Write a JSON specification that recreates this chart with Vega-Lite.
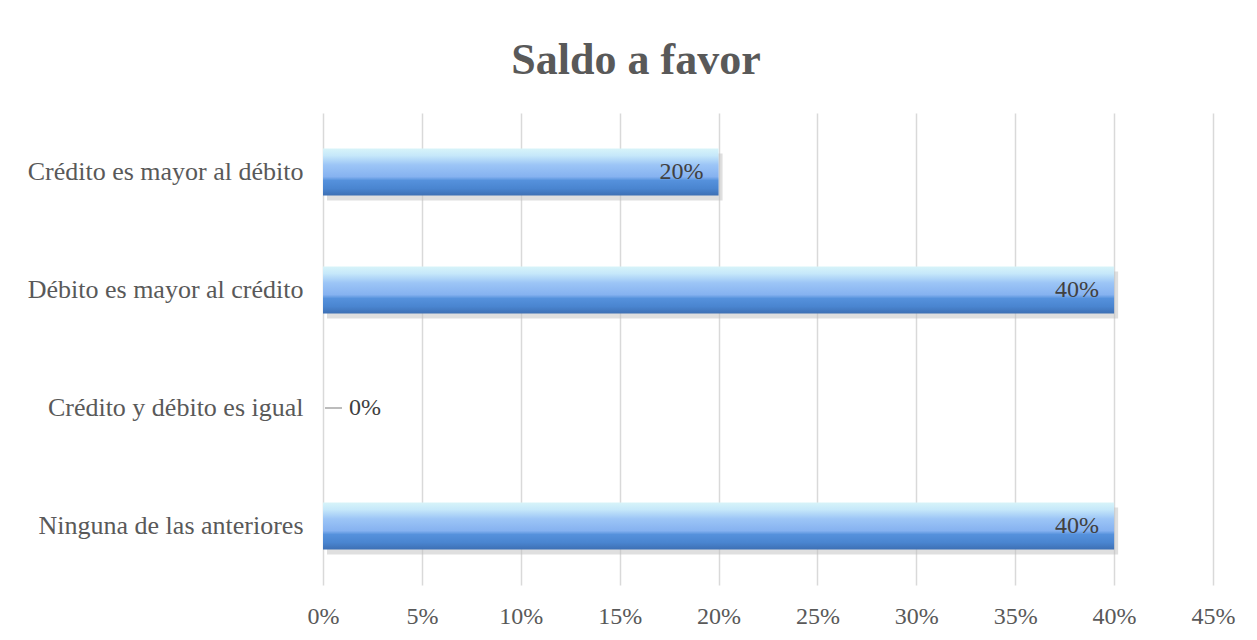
{
  "$schema": "https://vega.github.io/schema/vega-lite/v6.json",
  "width": 890,
  "height": 472,
  "autosize": {"type": "none"},
  "padding": {"left": 323, "top": 113, "right": 44, "bottom": 55},
  "background": "white",
  "title": {
    "text": "Saldo a favor",
    "font": "Liberation Serif",
    "fontSize": 44,
    "fontWeight": "bold",
    "color": "#595959",
    "anchor": "middle",
    "frame": "group",
    "offset": 30,
    "dx": -132
  },
  "config": {
    "view": {"stroke": null},
    "font": "Liberation Serif"
  },
  "data": {
    "values": [
      {"categoria": "Crédito es mayor al débito", "valor": 0.2},
      {"categoria": "Débito es mayor al crédito", "valor": 0.4},
      {"categoria": "Crédito y débito es igual", "valor": 0},
      {"categoria": "Ninguna de las anteriores", "valor": 0.4}
    ]
  },
  "encoding": {
    "y": {
      "field": "categoria",
      "type": "nominal",
      "sort": ["Crédito es mayor al débito", "Débito es mayor al crédito", "Crédito y débito es igual", "Ninguna de las anteriores"],
      "scale": {"paddingInner": 0.6, "paddingOuter": 0.3},
      "axis": {
        "title": null,
        "domain": false,
        "ticks": false,
        "labelPadding": 20,
        "labelFontSize": 26,
        "labelColor": "#595959",
        "labelFont": "Liberation Serif",
        "labelLimit": 400
      }
    },
    "x": {
      "field": "valor",
      "type": "quantitative",
      "scale": {"domain": [0, 0.45], "nice": false},
      "axis": {
        "title": null,
        "format": ".0%",
        "values": [0, 0.05, 0.1, 0.15, 0.2, 0.25, 0.3, 0.35, 0.4, 0.45],
        "domain": false,
        "ticks": false,
        "grid": true,
        "gridColor": "#d9d9d9",
        "gridWidth": 1.5,
        "labelFlush": false,
        "labelOverlap": false,
        "labelPadding": 19,
        "labelFontSize": 24,
        "labelColor": "#595959",
        "labelFont": "Liberation Serif"
      }
    }
  },
  "layer": [
    {
      "mark": {"type": "bar", "color": "#bfbfbf", "opacity": 0.5, "xOffset": 4, "yOffset": 5},
      "transform": [{"filter": "datum.valor > 0"}]
    },
    {
      "mark": {
        "type": "bar",
        "color": {
          "gradient": "linear",
          "x1": 0, "y1": 0, "x2": 0, "y2": 1,
          "stops": [
            {"offset": 0, "color": "#d8f4f9"},
            {"offset": 0.15, "color": "#c6e8fa"},
            {"offset": 0.35, "color": "#9cc5f6"},
            {"offset": 0.6, "color": "#86b2f0"},
            {"offset": 0.68, "color": "#5591dc"},
            {"offset": 0.85, "color": "#4a85d0"},
            {"offset": 1, "color": "#3d6fb3"}
          ]
        }
      },
      "transform": [{"filter": "datum.valor > 0"}]
    },
    {
      "mark": {"type": "text", "align": "right", "baseline": "middle", "dx": -15, "fontSize": 24, "color": "#404040", "font": "Liberation Serif"},
      "transform": [{"filter": "datum.valor > 0"}],
      "encoding": {"text": {"field": "valor", "type": "quantitative", "format": ".0%"}}
    },
    {
      "mark": {"type": "rule", "color": "#a6a6a6", "strokeWidth": 1.5, "xOffset": 2, "x2Offset": 19},
      "transform": [{"filter": "datum.valor == 0"}],
      "encoding": {"x2": {"field": "valor"}}
    },
    {
      "mark": {"type": "text", "align": "left", "baseline": "middle", "dx": 26, "fontSize": 24, "color": "#404040", "font": "Liberation Serif"},
      "transform": [{"filter": "datum.valor == 0"}],
      "encoding": {"text": {"field": "valor", "type": "quantitative", "format": ".0%"}}
    }
  ]
}
